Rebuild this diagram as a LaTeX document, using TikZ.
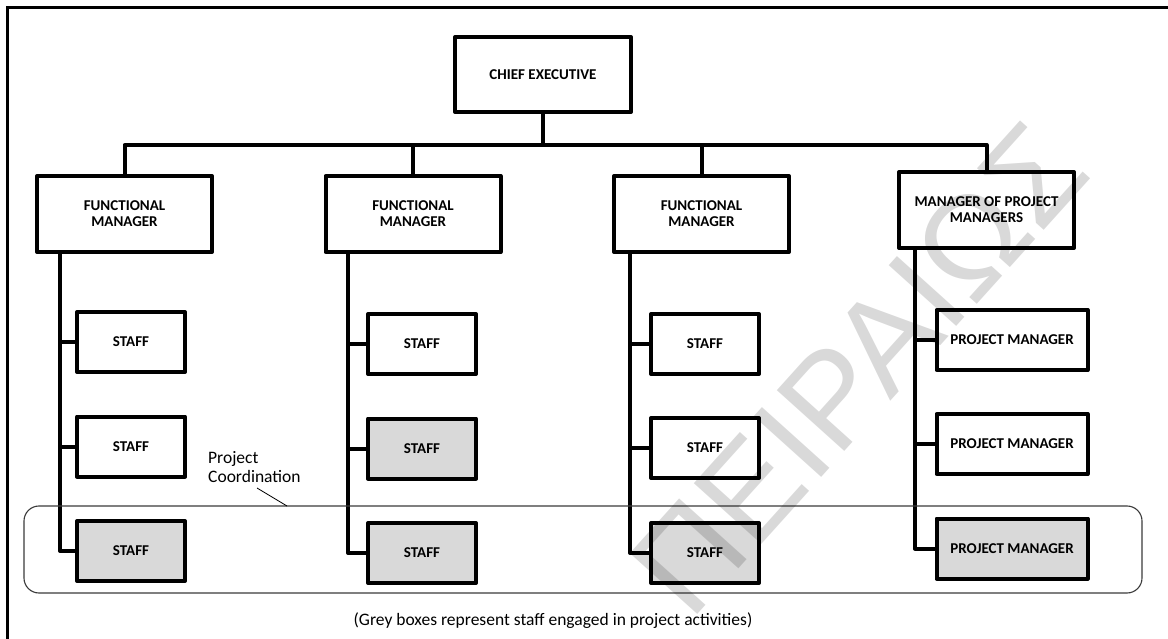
\documentclass[tikz,border=0pt]{standalone}
\usepackage{fontspec}
\setmainfont{Carlito}
\newfontfamily\wmfont{Liberation Sans}
\definecolor{boxgrey}{HTML}{D9D9D9}
\definecolor{framegrey}{HTML}{3A3A3A}
\tikzset{
  orgbox/.style={draw, line width=4pt, line join=round, inner sep=0pt,
    align=center, font=\bfseries\fontsize{15}{16}\selectfont},
  topbox/.style={orgbox, minimum width=176pt, minimum height=75pt},
  mgrbox/.style={orgbox, minimum width=175pt, minimum height=76pt},
  staffbox/.style={orgbox, minimum width=108pt, minimum height=60pt},
  pmbox/.style={orgbox, minimum width=151pt, minimum height=60pt},
  active/.style={fill=boxgrey},
  link/.style={line width=4pt, line join=round},
  coordframe/.style={draw=framegrey, line width=1.1pt, rounded corners=15pt,
    inner sep=0pt},
  plain/.style={font=\fontsize{17.5}{19}\selectfont}
}
\begin{document}
\begin{tikzpicture}[x=1pt,y=-1pt]
\useasboundingbox (0,0) rectangle (1168,639);
% page frame (left and top rules)
\draw[line width=3pt] (7.5,639) -- (7.5,7.5) -- (1168,7.5);

% top of the hierarchy
\node[topbox] (ceo) at (543,74.5) {CHIEF EXECUTIVE};
\node[mgrbox] (fm1) at (124.5,214) {FUNCTIONAL\\MANAGER};
\node[mgrbox] (fm2) at (413,214) {FUNCTIONAL\\MANAGER};
\node[mgrbox] (fm3) at (701.5,214) {FUNCTIONAL\\MANAGER};
\node[mgrbox] (mpm) at (986.5,210) {MANAGER OF PROJECT\\MANAGERS};

% staff under each functional manager
\node[staffbox] (s11) at (131,342) {STAFF};
\node[staffbox] (s12) at (131,446.5) {STAFF};
\node[staffbox,active] (s13) at (131,551) {STAFF};
\node[staffbox] (s21) at (422,344) {STAFF};
\node[staffbox,active] (s22) at (422,448.5) {STAFF};
\node[staffbox,active] (s23) at (422,553) {STAFF};
\node[staffbox] (s31) at (705,344) {STAFF};
\node[staffbox] (s32) at (705,448) {STAFF};
\node[staffbox,active] (s33) at (705,553) {STAFF};
\node[pmbox] (p1) at (1012,340) {PROJECT MANAGER};
\node[pmbox] (p2) at (1012,444) {PROJECT MANAGER};
\node[pmbox,active] (p3) at (1012,548.5) {PROJECT MANAGER};

% reporting lines
\coordinate (bar) at (543,145);
\draw[link] (fm1.north) |- (bar) -| (mpm.north);
\draw[link] (ceo.south) -- (bar);
\draw[link] (fm2.north) -- (fm2.north |- bar);
\draw[link] (fm3.north) -- (fm3.north |- bar);

\coordinate (t1) at (60,252);
\coordinate (t2) at (348,252);
\coordinate (t3) at (630,252);
\coordinate (t4) at (915,248);
\draw[link] (t1) |- (s13.west);
\draw[link] (t1 |- s11.west) -- (s11.west);
\draw[link] (t1 |- s12.west) -- (s12.west);
\draw[link] (t2) |- (s23.west);
\draw[link] (t2 |- s21.west) -- (s21.west);
\draw[link] (t2 |- s22.west) -- (s22.west);
\draw[link] (t3) |- (s33.west);
\draw[link] (t3 |- s31.west) -- (s31.west);
\draw[link] (t3 |- s32.west) -- (s32.west);
\draw[link] (t4) |- (p3.west);
\draw[link] (t4 |- p1.west) -- (p1.west);
\draw[link] (t4 |- p2.west) -- (p2.west);

% project coordination band
\node[coordframe, minimum width=1118pt, minimum height=87pt] (band) at (583,549.5) {};
\node[plain, align=left, anchor=north west, inner sep=0pt] (lbl) at (208,451) {Project\\Coordination};
\coordinate (bandtop) at (287,506);
\draw[line width=0.8pt] (257,488) -- (bandtop);

% footnote
\node[plain, inner sep=0pt] (note) at (553,621) {(Grey boxes represent staff engaged in project activities)};

% watermark
\node[rotate=48, text=black, text opacity=0.15, inner sep=0pt,
  font=\wmfont\fontsize{132}{132}\selectfont] (wm) at (858,368) {ΠΕΙΡΑΙΩΣ};
\end{tikzpicture}
\end{document}
